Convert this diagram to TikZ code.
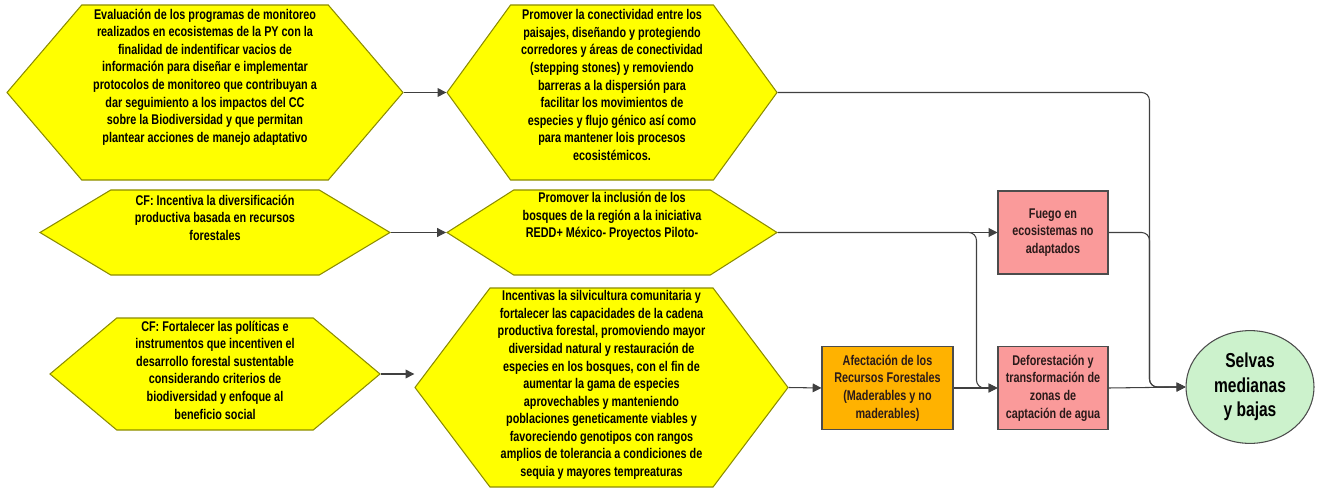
\documentclass[tikz,border=0pt]{standalone}
\usepackage{fontspec}
\newfontfamily\narrowsf{Liberation Sans}[FakeStretch=0.77]
\usetikzlibrary{arrows.meta,positioning,calc,shapes.symbols,shapes.geometric}
\definecolor{hexyellow}{HTML}{FFFF00}
\definecolor{hexline}{HTML}{8C8C00}
\definecolor{rose}{HTML}{FA9A9A}
\definecolor{amber}{HTML}{FFB200}
\definecolor{mint}{HTML}{CCF2CC}
\definecolor{wire}{HTML}{404040}
\definecolor{ink}{HTML}{2A1A1A}

\begin{document}
\begin{tikzpicture}[>={Triangle[length=5pt,width=5pt]},
    hex/.style={shape=signal,signal to=west and east,draw=hexline,fill=hexyellow,
      line width=0.6pt,inner sep=0pt},
    hextext/.style={align=center,font=\narrowsf\bfseries\fontsize{8}{10}\selectfont},
    box/.style={draw=black!70,line width=0.6pt,minimum width=2.2cm,minimum height=1.66cm,
      align=center,text=ink,font=\narrowsf\bfseries\fontsize{8}{10}\selectfont},
    conn/.style={->,draw=wire,line width=0.6pt}]
    \useasboundingbox (0,0) rectangle (26.36,9.78);
    % hexagons (strategies)
    \node[hex,minimum width=7.92cm,minimum height=3.5cm,signal pointer angle=99] (h1) at (4.10,7.93) {};
    \node[hex,minimum width=6.6cm,minimum height=3.5cm,signal pointer angle=108] (h2) at (12.24,7.93) {};
    \node[hex,minimum width=7.0cm,minimum height=1.7cm,signal pointer angle=62] (h3) at (4.30,5.13) {};
    \node[hex,minimum width=6.6cm,minimum height=1.7cm,signal pointer angle=65] (h4) at (12.24,5.13) {};
    \node[hex,minimum width=6.6cm,minimum height=2.24cm,signal pointer angle=80] (h5) at (4.30,2.30) {};
    \node[hex,minimum width=7.46cm,minimum height=3.98cm,signal pointer angle=106] (h6) at (12.03,2.03) {};
    \node[hextext] (t1) at ([yshift=0.31cm]h1.center) {Evaluación de los programas de monitoreo\\
      realizados en ecosistemas de la PY con la\\finalidad de indentificar vacios de\\
      información para diseñar e implementar\\protocolos de monitoreo que contribuyan a\\
      dar seguimiento a los impactos del CC\\sobre la Biodiversidad y que permitan\\
      plantear acciones de manejo adaptativo};
    \node[hextext] (t2) at ([yshift=0.15cm]h2.center) {Promover la conectividad entre los\\
      paisajes, diseñando y protegiendo\\corredores y áreas de conectividad\\
      (stepping stones) y removiendo\\barreras a la dispersión para\\
      facilitar los movimientos de\\especies y flujo génico así como\\
      para mantener lois procesos\\ecosistémicos.};
    \node[hextext] (t3) at ([yshift=0.30cm]h3.center) {CF: Incentiva la diversificación\\
      productiva basada en recursos\\forestales};
    \node[hextext] (t4) at ([yshift=0.32cm]h4.center) {Promover la inclusión de los\\
      bosques de la región a la iniciativa\\REDD+ México- Proyectos Piloto-};
    \node[hextext] (t5) at ([yshift=0.08cm]h5.center) {CF: Fortalecer las políticas e\\
      instrumentos que incentiven el\\desarrollo forestal sustentable\\
      considerando criterios de\\biodiversidad y enfoque al\\beneficio social};
    \node[hextext] (t6) at ([yshift=0.05cm]h6.center) {Incentivas la silvicultura comunitaria y\\
      fortalecer las capacidades de la cadena\\productiva forestal, promoviendo mayor\\
      diversidad natural y restauración de\\especies en los bosques, con el fin de\\
      aumentar la gama de especies\\aprovechables y manteniendo\\
      poblaciones geneticamente viables y\\favoreciendo genotipos con rangos\\
      amplios de tolerancia a condiciones de\\sequia y mayores tempreaturas};
    % threats and target
    \node[box,fill=amber,minimum width=2.62cm] (afect) at (17.75,2.02) {Afectación de los\\
      Recursos Forestales\\(Maderables y no\\maderables)};
    \node[box,fill=rose] (fuego) at (21.06,5.13) {Fuego en\\ecosistemas no\\adaptados};
    \node[box,fill=rose] (defor) at (21.06,2.02) {Deforestación y\\transformación de\\
      zonas de\\captación de agua};
    \node[ellipse,draw=black!70,fill=mint,line width=0.6pt,minimum width=2.56cm,minimum height=2.16cm,
      align=center,font=\narrowsf\bfseries\fontsize{11.5}{14}\selectfont] (sel) at (25.0,2.04)
      {Selvas\\medianas\\y bajas};
    \foreach \a/\b in {h1/h2,h3/h4,h4/fuego,h6/afect,afect/defor,defor/sel}
      \draw[conn] (\a.east) -- (\b.west);
    \draw[conn] (h5.east) -- (h5.east -| h6.west);
    \draw[conn,rounded corners=4.5pt] (h4.east) -| ([xshift=-0.42cm]defor.west) -- (defor.west);
    \draw[conn,rounded corners=4.5pt] (h2.east) -| ([xshift=-0.72cm]sel.west) -- (sel.west);
    \draw[conn,rounded corners=4.5pt] (fuego.east) -| ([xshift=-0.72cm]sel.west) -- (sel.west);
  \end{tikzpicture}
\end{document}
